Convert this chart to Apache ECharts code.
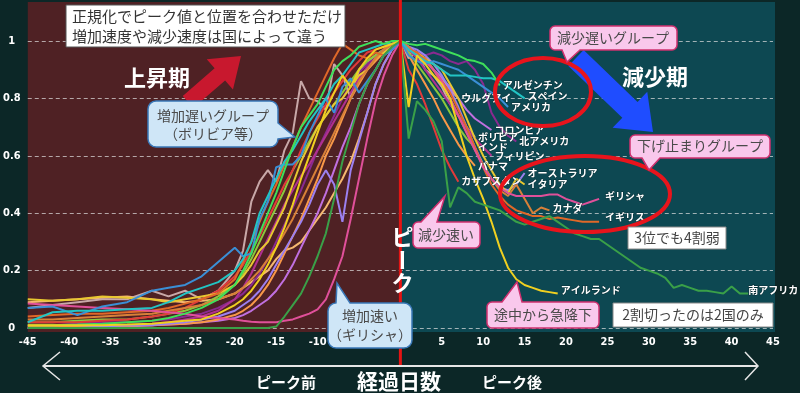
<!DOCTYPE html>
<html><head><meta charset="utf-8">
<script src="https://cdn.jsdelivr.net/npm/echarts@6/dist/echarts.min.js"></script>
<style>html,body{margin:0;padding:0;background:#0c2727}#c{width:800px;height:393px}</style>
</head><body><div id="c"></div>
<script>
// ---------------- data ----------------
const riseDays = [-45,-42,-39,-36,-33,-30,-28,-26,-24,-22,-20,-19,-18,-17,-16,-15,-14,-13,-12,-11,-10,-9,-8,-7,-6,-5,-4,-3,-2,-1,0];
const xTicks = [-45,-40,-35,-30,-25,-20,-15,-10,-5,0,5,10,15,20,25,30,35,40,45];
const yTicks = [0,0.2,0.4,0.6,0.8,1];

const argentinaRise = [.01,.01,.012,.015,.02,.025,.035,.05,.07,.1, .15,.2,.26,.33,.4,.47,.55,.63,.7,.74, .78,.84,.9,.93,.95,.98,.99,1,.99,1,1];
const argentinaFall = [1,.99,.985,.99,.98,.97,.96,.95,.935,.93,.92,.89,.845];
const spainRise = [.02,.055,.06,.06,.065,.07,.09,.12,.14,.16, .2,.24,.3,.4,.46,.52,.58,.62,.67,.72, .76,.8,.85,.88,.92,.96,.97,.98,.99,.99,1];
const spainFall = [1,.97,.95,.93,.92,.9,.88,.88,.88,.875,.87,.87,.86,.84,.82,.8];
const americaRise = [.07,.075,.045,.075,.09,.13,.14,.15,.18,.23, .28,.25,.26,.38,.44,.56,.57,.57,.6,.68, .74,.8,.75,.84,.87,.82,.86,.9,.95,.97,1];
const americaFall = [1,.95,.93,.92,.93,.92,.91,.9,.88,.86,.84,.82,.8,.77];
const uruguayRise = [.09,.095,.1,.105,.11,.1,.095,.09,.095,.1, .12,.14,.16,.18,.2,.24,.27,.28,.3,.34, .38,.42,.47,.52,.58,.66,.75,.85,.92,.97,1];
const uruguayFall = [1,.96,.95,.94,.9,.87,.83,.8];
const colombiaRise = [0,0,0,0,.005,.01,.012,.015,.02,.025, .035,.045,.06,.08,.1,.13,.17,.22,.28,.34, .4,.47,.55,.63,.7,.78,.85,.9,.95,.98,1];
const colombiaFall = [1,.98,.96,.93,.9,.87,.84,.8,.76,.73,.71,.69];
const northAmRise = [.01,.01,.015,.02,.02,.025,.03,.04,.05,.07, .1,.12,.15,.19,.24,.3,.36,.42,.48,.55, .62,.68,.74,.8,.85,.89,.92,.95,.97,.98,1];
const northAmFall = [1,.97,.96,.95,.96,.95,.93,.92,.93,.9,.85,.75,.7,.67,.65];
const boliviaRise = [.07,.08,.09,.1,.1,.13,.11,.13,.1,.13, .2,.27,.44,.51,.55,.51,.62,.68,.86,.8, .79,.76,.92,.88,.8,.9,.93,.95,.97,.98,1];
const boliviaFall = [1,.94,.96,.9,.88,.84,.78,.74,.7,.665];
const indiaRise = [.02,.02,.025,.03,.03,.04,.05,.06,.08,.11, .15,.19,.24,.3,.36,.42,.48,.55,.6,.65, .7,.74,.78,.82,.86,.9,.93,.95,.97,.99,1];
const indiaFall = [1,.96,.92,.88,.84,.8,.75,.7,.66,.63];
const philippinesRise = [.005,.005,.005,.01,.01,.015,.02,.03,.04,.06, .1,.14,.19,.25,.31,.37,.43,.48,.53,.57, .62,.67,.72,.77,.82,.87,.91,.94,.97,.99,1];
const philippinesFall = [1,.97,.94,.9,.86,.82,.78,.74,.7,.66,.63,.6];
const panamaRise = [.005,.005,.005,.005,.008,.01,.012,.015,.02,.03, .045,.06,.08,.11,.15,.2,.26,.32,.38,.45, .52,.6,.66,.73,.8,.85,.9,.93,.96,.98,1];
const panamaFall = [1,.95,.9,.85,.8,.74,.69,.64,.6,.565];
const kazakhRise = [.02,.02,.02,.025,.03,.04,.05,.07,.1,.13, .18,.22,.27,.32,.38,.44,.5,.55,.62,.68, .73,.78,.82,.86,.9,.93,.96,.97,.98,.99,1];
const kazakhFall = [1,.9,.85,.78,.7,.62,.56,.51];
const australiaRise = [0,0,0,.005,.01,.01,.015,.02,.03,.04, .06,.08,.1,.13,.17,.22,.27,.32,.37,.43, .5,.55,.5,.37,.55,.65,.75,.85,.92,.97,1];
const australiaFall = [1,.98,.97,.95,.92,.88,.83,.77,.7,.63,.57,.52,.49,.48,.5,.54];
const italyRise = [.1,.095,.1,.11,.105,.1,.09,.1,.11,.12, .15,.18,.22,.27,.3,.36,.42,.5,.58,.64, .7,.74,.78,.8,.84,.88,.9,.94,.96,.98,1];
const italyFall = [1,.97,.96,.94,.92,.9,.85,.8,.73,.66,.6,.55,.5,.47,.52,.5];
const greeceRise = [.085,.08,.075,.07,.065,.06,.055,.05,.04,.035, .03,.025,.022,.02,.02,.02,.025,.03,.04,.05, .065,.1,.17,.25,.38,.52,.66,.79,.88,.95,1];
const greeceFall = [1,.97,.95,.93,.9,.86,.8,.74,.68,.62,.56,.52,.49,.47,.46,.46,.46,.46,.465,.465,.45,.44,.43,.44,.45];
const canadaRise = [.03,.03,.035,.04,.045,.05,.06,.07,.08,.1, .12,.14,.17,.2,.24,.28,.33,.38,.44,.5, .56,.62,.68,.74,.8,.86,.9,.94,.97,.99,1];
const canadaFall = [1,.98,.95,.94,.9,.85,.8,.74,.68,.62,.57,.52,.48,.46,.5,.45,.4,.42,.41];
const ukRise = [.04,.045,.05,.05,.055,.06,.07,.085,.1,.12, .17,.23,.3,.37,.44,.5,.57,.63,.7,.76, .82,.88,.94,.99,.97,.95,.94,.96,.95,.98,1];
const ukFall = [1,.97,.96,.93,.9,.86,.82,.76,.7,.63,.56,.5,.46,.43,.41,.4,.39,.39,.38,.385,.38,.375,.37,.37,.37];
const irelandRise = [.01,.01,.01,.01,.012,.015,.02,.025,.03,.05, .08,.1,.13,.17,.22,.28,.35,.43,.52,.6, .68,.76,.82,.88,.84,.9,.94,.97,.98,.99,1];
const irelandFall = [1,.77,.95,.92,.88,.85,.8,.7,.6,.52,.45,.37,.28,.21,.17,.15,.14,.13,.125,.12];
const safricaRise = [0,0,0,0,0,0,0,0,0,0, 0,0,0,0,0,.005,.04,.08,.12,.18, .25,.33,.45,.58,.68,.78,.85,.9,.95,.98,1];
const safricaFall = [1,.66,.79,.76,.72,.65,.42,.49,.47,.44,.43,.42,.41,.39,.37,.36,.37,.38,.39,.37,.35,.33,.32,.31,.31,.29,.27,.25,.23,.21,.2,.19,.175,.14,.15,.14,.13,.13,.125,.12,.145,.12,.12];

// ---------------- series styling ----------------
const countries = [
  ['ウルグアイ', '#f5b870', uruguayRise, uruguayFall, [0,0]],
  ['コロンビア', '#c070e0', colombiaRise, colombiaFall, [0,0]],
  ['北アメリカ', '#8a2a90', northAmRise, northAmFall, [0,0]],
  ['ボリビア', '#c8a8a8', boliviaRise, boliviaFall, [0,0]],
  ['インド', '#8cc83c', indiaRise, indiaFall, [0,0]],
  ['フィリピン', '#b03090', philippinesRise, philippinesFall, [0,0]],
  ['パナマ', '#f89848', panamaRise, panamaFall, [0,0]],
  ['カザフスタン', '#e23a3a', kazakhRise, kazakhFall, [0,0]],
  ['オーストラリア', '#9c80f0', australiaRise, australiaFall, [0,0]],
  ['イタリア', '#e8c830', italyRise, italyFall, [0,0]],
  ['カナダ', '#d88038', canadaRise, canadaFall, [0,-2]],
  ['イギリス', '#e06828', ukRise, ukFall, [3,-5]],
  ['ギリシャ', '#e0509a', greeceRise, greeceFall, [3,-3]],
  ['アメリカ', '#3a8fd6', americaRise, americaFall, [0,0]],
  ['スペイン', '#22c4c4', spainRise, spainFall, [0,-2]],
  ['アルゼンチン', '#3ee05a', argentinaRise, argentinaFall, [0,0]],
  ['アイルランド', '#f0d020', irelandRise, irelandFall, [0,-3]],
  ['南アフリカ', '#3aa048', safricaRise, safricaFall, [-3,-3]]
];

function build(rise, fall) {
  const pts = riseDays.map((d, i) => [d, rise[i]]);
  fall.forEach((v, i) => { if (i > 0) pts.push([i, v]); });
  return pts;
}

const CJK = "'Noto Sans CJK JP', 'Noto Sans', sans-serif";
const NUM = "'DejaVu Sans Condensed', 'Liberation Sans Narrow', 'Roboto', sans-serif";

const chart = echarts.init(document.getElementById('c'), null, {renderer: 'canvas'});
const option = {
  animation: false,
  backgroundColor: '#0c2727',
  grid: {left: 27, right: 27, top: 41, bottom: 65, containLabel: false},
  xAxis: {
    type: 'value', min: xTicks[0], max: xTicks[xTicks.length - 1], interval: 5,
    axisLine: {show: false}, axisTick: {show: false}, splitLine: {show: false},
    axisLabel: {color: '#fff', fontWeight: 'bold', fontSize: 11, fontFamily: NUM, margin: 9}
  },
  yAxis: {
    type: 'value', min: yTicks[0], max: yTicks[yTicks.length - 1], interval: 0.2,
    axisLine: {show: false}, axisTick: {show: false},
    splitLine: {show: true, lineStyle: {color: 'rgba(225,225,225,0.7)', width: 1, type: [4, 3]}},
    axisLabel: {color: '#fff', fontWeight: 'bold', fontSize: 11, fontFamily: NUM, margin: 16, align: 'center'}
  },
  series: countries.map(([name, color, rise, fall, off]) => ({
    name, type: 'line', data: build(rise, fall), symbol: 'none',
    lineStyle: {color, width: 2}, itemStyle: {color},
    emphasis: {disabled: true}, z: 3,
    endLabel: {
      show: true, formatter: p => p.seriesName, color: '#fff', fontWeight: 'bold',
      fontSize: 10, fontFamily: CJK, distance: 3, offset: off,
      textBorderColor: 'rgba(0,0,0,0.35)', textBorderWidth: 1
    }
  }))
};
chart.setOption(option);

// ---------------- annotations ----------------
const x0 = chart.convertToPixel({xAxisIndex: 0}, 0);
const xL = chart.convertToPixel({xAxisIndex: 0}, -45);
const xR = chart.convertToPixel({xAxisIndex: 0}, 45);
const yZero = chart.convertToPixel({yAxisIndex: 0}, 0);

function arcPts(cx, cy, r, a0, a1) {
  const pts = [];
  for (let k = 0; k <= 4; k++) { const t = a0 + (a1 - a0) * k / 4; pts.push([cx + r * Math.cos(t), cy + r * Math.sin(t)]); }
  return pts;
}
function calloutPts(x, y, w, h, r, side, a, b, tx, ty) {
  const P = Math.PI, pts = [];
  pts.push(...arcPts(x + r, y + r, r, P, 1.5 * P));
  if (side === 'top') pts.push([x + a, y], [tx, ty], [x + b, y]);
  pts.push(...arcPts(x + w - r, y + r, r, 1.5 * P, 2 * P));
  if (side === 'right') pts.push([x + w, y + a], [tx, ty], [x + w, y + b]);
  pts.push(...arcPts(x + w - r, y + h - r, r, 0, 0.5 * P));
  if (side === 'bottom') pts.push([x + b, y + h], [tx, ty], [x + a, y + h]);
  pts.push(...arcPts(x + r, y + h - r, r, 0.5 * P, P));
  if (side === 'left') pts.push([x, y + b], [tx, ty], [x, y + a]);
  return pts;
}
function arrowPts(x1, y1, x2, y2, sw, hw, hl) {
  const dx = x2 - x1, dy = y2 - y1, L = Math.hypot(dx, dy), ux = dx / L, uy = dy / L, px = -uy, py = ux;
  const bx = x2 - ux * hl, by = y2 - uy * hl;
  return [[x1 + px * sw / 2, y1 + py * sw / 2], [bx + px * sw / 2, by + py * sw / 2], [bx + px * hw / 2, by + py * hw / 2],
    [x2, y2], [bx - px * hw / 2, by - py * hw / 2], [bx - px * sw / 2, by - py * sw / 2], [x1 - px * sw / 2, y1 - py * sw / 2]];
}
function txt(x, y, text, size, color, weight, align, extra) {
  return Object.assign({type: 'text', x, y, z: 120, style: {text, fill: color, fontSize: size, fontFamily: CJK,
    fontWeight: weight || 'normal', align: align || 'center', verticalAlign: 'middle'}}, extra || {});
}
const BLUEBG = '#cfe6f7', BLUEBD = '#3a78b8', PINKBG = '#f9c8ec', PINKBD = '#d0306f';
function callout(args, fill, stroke, lines) {
  const els = [{type: 'polygon', z: 110, shape: {points: calloutPts.apply(null, args)}, style: {fill, stroke, lineWidth: 1.5}}];
  lines.forEach(l => els.push(txt(l[0], l[1], l[2], l[3] || 14, '#4a4a4a')));
  return els;
}

const g = [];
g.push({type: 'rect', z: -10, shape: {x: xL, y: 2, width: x0 - xL, height: yZero + 4 - 2}, style: {fill: '#4f2124'}});
g.push({type: 'rect', z: -10, shape: {x: x0, y: 2, width: xR + 2 - x0, height: yZero + 4 - 2}, style: {fill: '#0d4852'}});
g.push({type: 'line', z: 100, shape: {x1: x0, y1: 0, x2: x0, y2: 365}, style: {stroke: '#e41414', lineWidth: 3}});
g.push({type: 'rect', z: 110, shape: {x: 66, y: 5, width: 279, height: 42}, style: {fill: '#fff', stroke: '#555', lineWidth: 1}});
g.push(txt(72, 16, '正規化でピーク値と位置を合わせただけ', 15, '#333', 'normal', 'left'));
g.push(txt(72, 36, '増加速度や減少速度は国によって違う', 15, '#333', 'normal', 'left'));
g.push(txt(157, 78, '上昇期', 22, '#fff', 'bold'));
g.push(txt(655, 77, '減少期', 22, '#fff', 'bold'));
g.push({type: 'polygon', z: 105, shape: {points: arrowPts(188, 102, 241, 56, 16, 40, 28)}, style: {fill: '#c8182e'}});
g.push({type: 'polygon', z: 105, shape: {points: arrowPts(576, 58, 653, 132, 22, 50, 32)}, style: {fill: '#1f4dff'}});
g.push({type: 'ellipse', z: 108, shape: {cx: 543, cy: 92, rx: 48, ry: 34}, style: {fill: 'none', stroke: '#e8141c', lineWidth: 4}});
g.push({type: 'ellipse', z: 108, shape: {cx: 585, cy: 194, rx: 85, ry: 38}, style: {fill: 'none', stroke: '#e8141c', lineWidth: 4}});
g.push(...callout([148, 101, 130, 46, 8, 'right', 22, 38, 295, 137], BLUEBG, BLUEBD,
  [[213, 116, '増加遅いグループ'], [213, 134, '（ボリビア等）']]));
g.push(...callout([328, 303, 84, 45, 8, 'top', 8, 22, 337, 283], BLUEBG, BLUEBD,
  [[370, 316, '増加速い'], [370, 335, '（ギリシャ）']]));
g.push(...callout([550, 26, 127, 24, 5, 'bottom', 12, 30, 567, 62], PINKBG, PINKBD, [[613, 38, '減少遅いグループ']]));
g.push(...callout([630, 135, 140, 23, 5, 'bottom', 12, 30, 649, 170], PINKBG, PINKBD, [[700, 146, '下げ止まりグループ']]));
g.push(...callout([413, 222, 67, 26, 5, 'top', 8, 24, 445, 196], PINKBG, PINKBD, [[446, 235, '減少速い']]));
g.push(...callout([487, 302, 112, 26, 5, 'top', 15, 35, 517, 282], PINKBG, PINKBD, [[543, 315, '途中から急降下']]));
g.push({type: 'rect', z: 110, shape: {x: 628, y: 227, width: 98, height: 22}, style: {fill: '#fff', stroke: '#888', lineWidth: 1}});
g.push(txt(677, 238, '3位でも4割弱', 14, '#444'));
g.push({type: 'rect', z: 110, shape: {x: 613, y: 303, width: 160, height: 24}, style: {fill: '#fff', stroke: '#888', lineWidth: 1}});
g.push(txt(693, 315, '2割切ったのは2国のみ', 14, '#444'));
g.push(txt(x0 + 2, 237, 'ピ', 22, '#fff', 'bold'));
g.push(txt(x0 + 2, 260, 'ー', 22, '#fff', 'bold', 'center', {rotation: -Math.PI / 2}));
g.push(txt(x0 + 2, 283, 'ク', 22, '#fff', 'bold'));
g.push({type: 'polyline', z: 100, shape: {points: [[43, 366], [758, 366]]}, style: {stroke: '#e6e6e6', lineWidth: 2}});
g.push({type: 'polyline', z: 100, shape: {points: [[60, 352], [43, 366], [60, 380]]}, style: {stroke: '#e6e6e6', lineWidth: 1.5, fill: 'none'}});
g.push({type: 'polyline', z: 100, shape: {points: [[745, 352], [758, 366], [745, 380]]}, style: {stroke: '#e6e6e6', lineWidth: 1.5, fill: 'none'}});
g.push(txt(286, 382, 'ピーク前', 15, '#fff', 'bold'));
g.push(txt(399, 381, '経過日数', 21, '#fff', 'bold'));
g.push(txt(512, 382, 'ピーク後', 15, '#fff', 'bold'));

chart.setOption({graphic: {elements: g}});
</script>
</body></html>
